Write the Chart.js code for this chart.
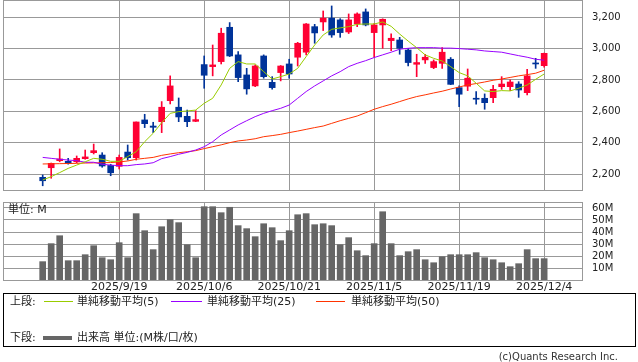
<!DOCTYPE html>
<html>
<head>
<meta charset="utf-8">
<script src="https://cdn.jsdelivr.net/npm/chart.js@4/dist/chart.umd.min.js"></script>
<style>
  body { margin: 0; background: #fff; width: 638px; height: 362px; overflow: hidden; position: relative;
         font-family: 'DejaVu Sans', 'Noto Sans CJK JP', sans-serif; color: #222; }
  canvas { position: absolute; left: 0; }
  .t { position: absolute; font-size: 11px; line-height: 13px; white-space: nowrap; }
  .ln { position: absolute; height: 1px; }
  #legend { position: absolute; left: 3px; top: 293px; width: 633px; height: 54px; box-sizing: border-box; border: 1px solid #000; }
</style>
</head>
<body>
<canvas id="priceChart" width="638" height="192" style="top:0"></canvas>
<canvas id="volumeChart" width="638" height="106" style="top:192px"></canvas>
<div class="t" style="left:8px;top:203px">単位: M</div>

<div id="legend"></div>
<div class="t" style="left:10px;top:295px">上段:</div>
<div class="ln" style="left:44px;top:301px;width:29px;background:#99cc00"></div>
<div class="t" style="left:77px;top:295px">単純移動平均(5)</div>
<div class="ln" style="left:171px;top:301px;width:31px;background:#9900ff"></div>
<div class="t" style="left:207px;top:295px">単純移動平均(25)</div>
<div class="ln" style="left:316px;top:301px;width:29px;background:#ff3300"></div>
<div class="t" style="left:351px;top:295px">単純移動平均(50)</div>
<div class="t" style="left:10px;top:331px">下段:</div>
<div class="ln" style="left:43px;top:336px;width:29px;height:4px;background:#666"></div>
<div class="t" style="left:77px;top:331px">出来高 単位:(M株/口/枚)</div>
<div class="t" style="right:20px;top:350px;font-size:10px;color:#333">(c)Quants Research Inc.</div>

<script>
// trading days, 2025/9/5 - 2025/12/4
var dates = ['2025/9/5', '2025/9/8', '2025/9/9', '2025/9/10', '2025/9/11', '2025/9/12', '2025/9/16', '2025/9/17', '2025/9/18', '2025/9/19',
    '2025/9/22', '2025/9/24', '2025/9/25', '2025/9/26', '2025/9/29', '2025/9/30', '2025/10/1', '2025/10/2', '2025/10/3', '2025/10/6',
    '2025/10/7', '2025/10/8', '2025/10/9', '2025/10/10', '2025/10/14', '2025/10/15', '2025/10/16', '2025/10/17', '2025/10/20', '2025/10/21',
    '2025/10/22', '2025/10/23', '2025/10/24', '2025/10/27', '2025/10/28', '2025/10/29', '2025/10/30', '2025/10/31', '2025/11/4', '2025/11/5',
    '2025/11/6', '2025/11/7', '2025/11/10', '2025/11/11', '2025/11/12', '2025/11/13', '2025/11/14', '2025/11/17', '2025/11/18', '2025/11/19',
    '2025/11/20', '2025/11/21', '2025/11/25', '2025/11/26', '2025/11/27', '2025/11/28', '2025/12/1', '2025/12/2', '2025/12/3', '2025/12/4'];

var openP = [2179, 2240, 2285, 2281, 2278, 2298, 2336, 2321, 2255, 2249,
    2340, 2304, 2545, 2506, 2534, 2668, 2626, 2568, 2536, 2898,
    2885, 2917, 3136, 2960, 2832, 2762, 2953, 2785, 2847, 2902,
    2945, 2977, 3140, 3170, 3194, 3183, 3106, 3157, 3234, 3102,
    3151, 3051, 3055, 2991, 2900, 2928, 2879, 2906, 2932, 2751,
    2760, 2683, 2683, 2687, 2757, 2757, 2774, 2719, 2906, 2891];
var highP = [2194, 2270, 2360, 2300, 2315, 2353, 2391, 2336, 2262, 2321,
    2385, 2532, 2581, 2530, 2662, 2826, 2685, 2608, 2604, 2953,
    3023, 3130, 3166, 2981, 2874, 2896, 2960, 2821, 2892, 2932,
    3040, 3160, 3155, 3240, 3272, 3191, 3221, 3228, 3253, 3160,
    3190, 3094, 3072, 3000, 2964, 2964, 2928, 3006, 2943, 2762,
    2870, 2726, 2711, 2766, 2821, 2800, 2789, 2868, 2938, 2972];
var lowP = [2125, 2173, 2278, 2263, 2272, 2294, 2328, 2243, 2189, 2232,
    2289, 2289, 2496, 2464, 2464, 2647, 2534, 2502, 2534, 2747,
    2826, 2902, 2949, 2789, 2709, 2757, 2811, 2741, 2794, 2811,
    2889, 2960, 3034, 3115, 3072, 3072, 3096, 3140, 3145, 2945,
    3002, 2987, 2964, 2889, 2821, 2906, 2872, 2874, 2770, 2630,
    2732, 2645, 2613, 2655, 2740, 2732, 2689, 2704, 2874, 2881];
var closeP = [2157, 2268, 2296, 2266, 2300, 2309, 2349, 2251, 2208, 2306,
    2304, 2532, 2521, 2498, 2626, 2762, 2564, 2534, 2547, 2830,
    2896, 3098, 2953, 2815, 2743, 2889, 2821, 2751, 2889, 2838,
    3034, 3157, 3100, 3194, 3087, 3102, 3183, 3221, 3151, 3151,
    3187, 3066, 3002, 2911, 2911, 2945, 2917, 2977, 2772, 2709,
    2811, 2677, 2655, 2740, 2774, 2787, 2736, 2826, 2902, 2970];

var ma5 = [2162, 2183, 2209, 2236, 2257, 2278, 2300, 2294, 2281, 2281,
    2311, 2342, 2406, 2460, 2527, 2587, 2598, 2602, 2608, 2651,
    2683, 2768, 2874, 2917, 2902, 2902, 2853, 2806, 2821, 2838,
    2874, 2949, 3023, 3087, 3123, 3132, 3140, 3155, 3157, 3157,
    3170, 3142, 3093, 3048, 3006, 2960, 2938, 2921, 2885, 2847,
    2826, 2779, 2730, 2726, 2732, 2730, 2747, 2768, 2804, 2838];
var ma25 = [2306, 2300, 2294, 2289, 2285, 2275, 2275, 2262, 2257, 2253,
    2253, 2260, 2264, 2272, 2298, 2311, 2326, 2338, 2353, 2374,
    2406, 2449, 2481, 2513, 2540, 2566, 2587, 2604, 2619, 2640,
    2683, 2726, 2762, 2794, 2826, 2853, 2885, 2906, 2923, 2943,
    2960, 2977, 2996, 3002, 3006, 3006, 3006, 3003, 3003, 3000,
    2996, 2992, 2985, 2981, 2977, 2966, 2955, 2945, 2932, 2926];
var ma50 = [2264, 2265, 2266, 2267, 2268, 2270, 2271, 2272, 2273, 2277,
    2283, 2294, 2300, 2306, 2319, 2328, 2336, 2342, 2349, 2362,
    2374, 2386, 2400, 2411, 2417, 2425, 2438, 2445, 2453, 2464,
    2474, 2485, 2496, 2506, 2523, 2540, 2555, 2570, 2591, 2613,
    2630, 2645, 2662, 2679, 2694, 2705, 2717, 2728, 2742, 2755,
    2768, 2777, 2787, 2798, 2806, 2816, 2826, 2834, 2843, 2862];

// volume in M
var volume = [15.3, 30.3, 36.9, 16.1, 16.1, 21.1, 28.6, 18.6, 16.9, 31.1,
    18.6, 55.3, 41.1, 25.3, 44.4, 50.3, 47.8, 29.4, 18.6, 61.1,
    61.1, 56.1, 60.6, 45.3, 42.8, 36.1, 46.9, 43.6, 32.8, 41.1,
    54.4, 55.3, 46.1, 46.9, 45.3, 29.4, 35.3, 24.4, 20.3, 30.3,
    56.9, 30.3, 20.3, 23.6, 25.3, 16.9, 14.4, 19.4, 21.1, 21.1,
    21.1, 22.8, 18.6, 16.9, 14.4, 11.1, 13.6, 25.3, 17.8, 17.8];

var priceTicks = [2200, 2400, 2600, 2800, 3000, 3200];
var volumeTicks = [10, 20, 30, 40, 50, 60];
var dateTickIdx = [9, 19, 29, 39, 49, 59];

var gridColor = '#999999';
var upColor = '#ff0033';
var downColor = '#003399';
var xMin = -4.67, xMax = 63.57;

Chart.defaults.font.family = "'DejaVu Sans', 'Noto Sans CJK JP', sans-serif";
Chart.defaults.color = '#222';

// gray frame round the plot area
const frame = {
    id: 'frame',
    beforeDatasetsDraw(chart) {
        const a = chart.chartArea;
        const ctx = chart.ctx;
        ctx.save();
        ctx.strokeStyle = gridColor;
        ctx.lineWidth = 1;
        ctx.strokeRect(Math.round(a.left) + 0.5, Math.round(a.top) + 0.5,
            Math.round(a.right - a.left) - 1, Math.round(a.bottom - a.top));
        ctx.restore();
    }
};

function noPad(scale) {
    scale.paddingTop = 0;
    scale.paddingBottom = 0;
    scale.paddingLeft = 0;
    scale.paddingRight = 0;
}

var candleColors = openP.map((o, i) => closeP[i] >= o ? upColor : downColor);

function xy(list) {
    return list.map((v, i) => ({ x: i, y: v }));
}

function maLine(list, color) {
    return {
        type: 'line',
        data: xy(list),
        borderColor: color,
        borderWidth: 1,
        pointRadius: 0,
        tension: 0,
        order: 0
    };
}

new Chart(document.getElementById('priceChart'), {
    type: 'bar',
    data: {
        datasets: [
            maLine(ma5, '#99cc00'),
            maLine(ma25, '#9900ff'),
            maLine(ma50, '#ff3300'),
            {
                data: openP.map((o, i) => ({ x: i, y: [o, closeP[i]] })),
                backgroundColor: candleColors,
                barThickness: 6,
                minBarLength: 1,
                grouped: false,
                order: 1
            },
            {
                data: lowP.map((l, i) => ({ x: i, y: [l, highP[i]] })),
                backgroundColor: candleColors,
                barThickness: 1,
                grouped: false,
                order: 2
            }
        ]
    },
    options: {
        responsive: false,
        animation: false,
        layout: { padding: { left: 3, top: 0, right: 0, bottom: 2 } },
        plugins: { legend: { display: false }, tooltip: { enabled: false } },
        scales: {
            x: {
                type: 'linear',
                min: xMin,
                max: xMax,
                offset: false,
                grid: { color: gridColor, drawTicks: false, offset: false },
                border: { display: false },
                ticks: { display: false },
                afterBuildTicks: (s) => { s.ticks = dateTickIdx.map(v => ({ value: v })); },
                afterFit: (s) => { s.height = 0; noPad(s); }
            },
            y: {
                position: 'right',
                min: 2098,
                max: 3310,
                grid: { color: gridColor, drawTicks: false },
                border: { display: false },
                ticks: {
                    padding: 9,
                    font: { size: 10 },
                    callback: (v) => v.toLocaleString('en-US')
                },
                afterBuildTicks: (s) => { s.ticks = priceTicks.map(v => ({ value: v })); },
                afterFit: (s) => { s.width = 55; noPad(s); }
            }
        }
    },
    plugins: [frame]
});

new Chart(document.getElementById('volumeChart'), {
    type: 'bar',
    data: {
        datasets: [{
            data: xy(volume),
            backgroundColor: '#666666',
            barThickness: 6,
            grouped: false
        }]
    },
    options: {
        responsive: false,
        animation: false,
        layout: { padding: { left: 3, top: 10, right: 0, bottom: 0 } },
        plugins: { legend: { display: false }, tooltip: { enabled: false } },
        scales: {
            x: {
                type: 'linear',
                min: xMin,
                max: xMax,
                offset: false,
                grid: { color: gridColor, drawTicks: false, offset: false },
                border: { display: false },
                ticks: {
                    padding: 1,
                    maxRotation: 0,
                    minRotation: 0,
                    autoSkip: false,
                    font: { size: 11 },
                    callback: (v) => dates[v]
                },
                afterBuildTicks: (s) => { s.ticks = dateTickIdx.map(v => ({ value: v })); },
                afterFit: (s) => { s.height = 18; noPad(s); }
            },
            y: {
                position: 'right',
                min: 0,
                max: 65,
                grid: { color: gridColor, drawTicks: false },
                border: { display: false },
                ticks: {
                    padding: 9,
                    font: { size: 10 },
                    callback: (v) => v + 'M'
                },
                afterBuildTicks: (s) => { s.ticks = volumeTicks.map(v => ({ value: v })); },
                afterFit: (s) => { s.width = 55; noPad(s); }
            }
        }
    },
    plugins: [frame]
});
</script>
</body>
</html>
